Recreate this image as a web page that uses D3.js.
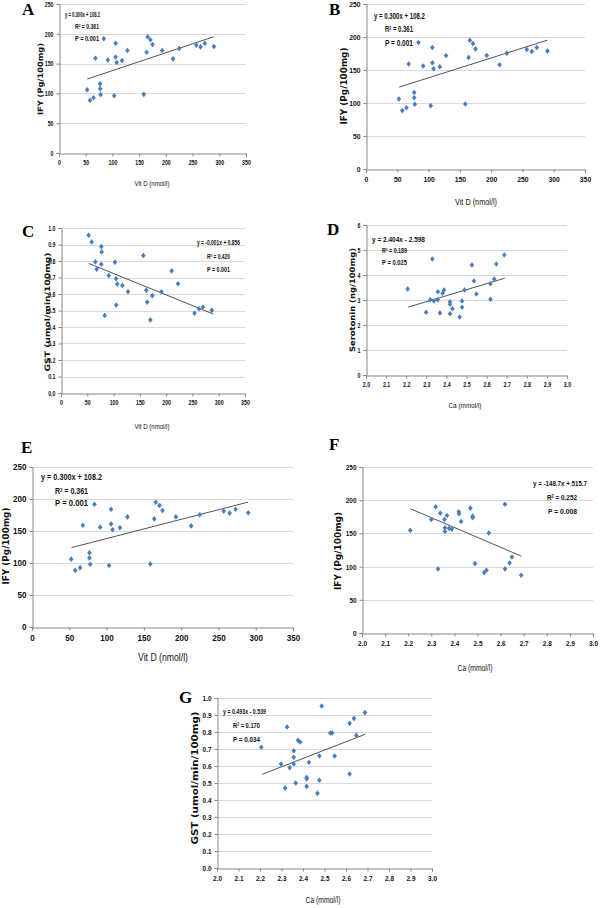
<!DOCTYPE html>
<html><head><meta charset="utf-8">
<script src="https://cdn.jsdelivr.net/npm/d3@7"></script>
<style>body{margin:0;background:#fff}svg{display:block}</style>
</head><body><svg id="c" width="600" height="908"></svg>
<script>
// ---------------- DATA ----------------
const vitD = [52.6,58,64.6,68.2,77,77,78,83.8,91.4,103.4,106,106,108,118,128,158.7,164,166,171,175,193,213.5,225,257,265,273,290];
const ifyByVitD = [106,88.5,92.7,159,116,108,98,191.7,156,96,184,161,152,155,172,98.4,169,195,190,182,172,158,175.5,181,178,184,178.6];

const vitD_C = [52.6,58.3,65.3,67.8,76.7,77.4,76.7,83,90.7,102.7,104.6,105,107,116.7,127.5,156.6,162.3,164,170,173.7,190.9,210.5,222.6,254,262.5,270,287];
const gstByVitD = [0.956,0.915,0.795,0.75,0.887,0.855,0.78,0.47,0.712,0.793,0.692,0.533,0.66,0.652,0.614,0.833,0.622,0.551,0.443,0.59,0.614,0.74,0.662,0.483,0.511,0.521,0.501];

const ca_D = [2.207,2.299,2.32,2.33,2.338,2.358,2.357,2.368,2.381,2.388,2.418,2.418,2.418,2.43,2.466,2.478,2.478,2.49,2.527,2.537,2.549,2.619,2.619,2.638,2.648,2.688];
const serotonin = [3.44,2.51,3.01,4.64,2.96,3.33,3.01,2.48,3.27,3.4,2.93,2.83,2.45,2.65,2.32,2.96,2.71,3.4,4.4,3.76,3.24,3.65,3.03,3.84,4.44,4.8];

const ca_F = [2.209,2.30,2.319,2.329,2.339,2.357,2.359,2.359,2.368,2.377,2.389,2.419,2.42,2.429,2.469,2.479,2.479,2.489,2.529,2.539,2.549,2.619,2.619,2.639,2.649,2.689];
const ifyByCa = [154.5,171,190,96.5,180.5,171,158.5,153,177,157.5,156.5,182.5,179.5,168,188,176,173.5,104.5,91,94.5,150.5,194,96.5,105.5,114.5,87];

const ca_G = [2.206,2.298,2.317,2.326,2.338,2.357,2.357,2.357,2.366,2.377,2.386,2.417,2.417,2.417,2.428,2.467,2.476,2.476,2.487,2.527,2.536,2.547,2.617,2.617,2.637,2.648,2.688];
const gstByCa = [0.71,0.612,0.47,0.829,0.59,0.69,0.651,0.612,0.5,0.751,0.741,0.533,0.524,0.48,0.622,0.439,0.659,0.516,0.953,0.794,0.794,0.659,0.553,0.851,0.88,0.78,0.914];

// trend line end points
const trendVitD_IFY = {x:[53,290], y:[124.1,195.2]};
const trendVitD_GST = {x:[53,290], y:[0.785,0.478]};
const trendCa_Sero  = {x:[2.21,2.69], y:[2.715,3.869]};
const trendCa_IFY   = {x:[2.21,2.69], y:[187.1,115.7]};
const trendCa_GST   = {x:[2.21,2.69], y:[0.551,0.787]};

// ticks
const vitDTicks = [0,50,100,150,200,250,300,350];
const vitDLabels = ["0","50","100","150","200","250","300","350"];
const caTicks = [2.0,2.1,2.2,2.3,2.4,2.5,2.6,2.7,2.8,2.9,3.0];
const caLabels = ["2.0","2.1","2.2","2.3","2.4","2.5","2.6","2.7","2.8","2.9","3.0"];
const ifyTicks = [0,50,100,150,200,250];
const ifyLabels = ["0","50","100","150","200","250"];
const gstTicks = [0,0.1,0.2,0.3,0.4,0.5,0.6,0.7,0.8,0.9,1.0];
const gstLabels = ["0.0","0.1","0.2","0.3","0.4","0.5","0.6","0.7","0.8","0.9","1.0"];
const seroTicks = [0,1,2,3,4,5,6];
const seroLabels = ["0","1","2","3","4","5","6"];

// texts
const eqIFY = ["y = 0.300x + 108.2", "0.361", "P  = 0.001"];
const eqGSTv = ["y = -0.001x + 0.856", "0.420", "P  = 0.001"];
const eqSero = ["y = 2.404x - 2.598", "0.189", "P  = 0.025"];
const eqIFYca = ["y = -148.7x + 515.7", "0.252", "P  = 0.008"];
const eqGSTca = ["y = 0.493x - 0.539", "0.170", "P  = 0.034"];

// ---------------- LAYOUT ----------------
const panels = [
 {L:"A", lx:22, ly:15, x0:59,x1:246,yT:4,yB:153, xd:[0,350], yd:[0,250], xt:vitDTicks, xl:vitDLabels, yt:ifyTicks, yl:ifyLabels,
  xs:vitD, ys:ifyByVitD, tr:trendVitD_IFY, eq:eqIFY, eqPos:[[65,17,35],[75,29,24],[75,41,24]], fs:7, efs:7, sq:0.75,
  xTitle:"Vit D (nmol/l)", xTp:[152,186,35], yTitle:"IFY (Pg/100mg)", yTp:[40,79,72], yfs:7.5},
 {L:"B", lx:329, ly:15, x0:366,x1:585,yT:4,yB:169, xd:[0,350], yd:[0,250], xt:vitDTicks, xl:vitDLabels, yt:ifyTicks, yl:ifyLabels,
  xs:vitD, ys:ifyByVitD, tr:trendVitD_IFY, eq:eqIFY, eqPos:[[374,19,51],[385,32,28],[385,46,28]], fs:8, efs:8.5, sq:0.85,
  xTitle:"Vit D (nmol/l)", xTp:[476,205,42], yTitle:"IFY (Pg/100mg)", yTp:[344,86,77], yfs:8},
 {L:"C", lx:22, ly:237, x0:61,x1:245,yT:228,yB:393, xd:[0,350], yd:[0,1], xt:vitDTicks, xl:vitDLabels, yt:gstTicks, yl:gstLabels,
  xs:vitD_C, ys:gstByVitD, tr:trendVitD_GST, eq:eqGSTv, eqPos:[[197,245,43],[207,259,23],[207,272,23]], fs:7, efs:6.5, sq:0.75,
  xTitle:"Vit D (nmol/l)", xTp:[152,429,35], yTitle:"GST (umol/min/100mg)", yTp:[47,312,119], yfs:7.5},
 {L:"D", lx:327, ly:235, x0:366,x1:567,yT:225,yB:375, xd:[2,3], yd:[0,6], xt:caTicks, xl:caLabels, yt:seroTicks, yl:seroLabels,
  xs:ca_D, ys:serotonin, tr:trendCa_Sero, eq:eqSero, eqPos:[[372,242,53],[382,253,25],[382,265,25]], fs:7, efs:7, sq:0.75,
  xTitle:"Ca (mmol/l)", xTp:[465,408,33], yTitle:"Serotonin (ng/100mg)", yTp:[352,300,104], yfs:7.5},
 {L:"E", lx:21, ly:453, x0:32,x1:293,yT:467,yB:627, xd:[0,350], yd:[0,250], xt:vitDTicks, xl:vitDLabels, yt:ifyTicks, yl:ifyLabels,
  xs:vitD, ys:ifyByVitD, tr:trendVitD_IFY, eq:eqIFY, eqPos:[[41,480,61],[55,494,33],[55,506,33]], fs:9, efs:9.5, sq:0.9,
  xTitle:"Vit D (nmol/l)", xTp:[163,661,50], yTitle:"IFY (Pg/100mg)", yTp:[6,546,77], yfs:8},
 {L:"F", lx:329, ly:450, x0:362,x1:593,yT:467,yB:633, xd:[2,3], yd:[0,250], xt:caTicks, xl:caLabels, yt:ifyTicks, yl:ifyLabels,
  xs:ca_F, ys:ifyByCa, tr:trendCa_IFY, eq:eqIFYca, eqAnchor:"end", eqPos:[[587,486,54],[577,500,30],[577,514,29]], fs:8, efs:8, sq:0.8,
  xTitle:"Ca (mmol/l)", xTp:[475,671,35], yTitle:"IFY (Pg/100mg)", yTp:[338,551,78], yfs:8},
 {L:"G", lx:179, ly:703, x0:217,x1:432,yT:698,yB:868, xd:[2,3], yd:[0,1], xt:caTicks, xl:caLabels, yt:gstTicks, yl:gstLabels,
  xs:ca_G, ys:gstByCa, tr:trendCa_GST, eq:eqGSTca, eqPos:[[223,714,43],[233,728,27],[233,742,27]], fs:8, efs:7.5, sq:0.8,
  xTitle:"Ca (mmol/l)", xTp:[323,903,35], yTitle:"GST (umol/min/100mg)", yTp:[195,778,133], yfs:8}
];

const svg = d3.select("#c");
const NARROW = "'Liberation Sans Narrow','Arial Narrow','Liberation Sans',sans-serif";
const diamond = "M0,-2.8L2.3,0L0,2.8L-2.3,0Z";

function fit(sel, w){ sel.attr("textLength", w).attr("lengthAdjust","spacingAndGlyphs"); }
function squeeze(sel, f){ sel.each(function(){ const n=this.getComputedTextLength(); d3.select(this).attr("textLength", n*f).attr("lengthAdjust","spacingAndGlyphs"); }); }

panels.forEach(p=>{
  const g = svg.append("g");
  const x = d3.scaleLinear().domain(p.xd).range([p.x0,p.x1]);
  const y = d3.scaleLinear().domain(p.yd).range([p.yB,p.yT]);

  // grid
  g.append("g").selectAll("line").data(p.yt.slice(1)).join("line")
    .attr("x1",p.x0).attr("x2",p.x1).attr("y1",d=>Math.round(y(d))+0.5).attr("y2",d=>Math.round(y(d))+0.5)
    .attr("stroke","#d9d9d9").attr("stroke-width",1);

  // axes
  const ax = g.append("g").attr("transform",`translate(0,${Math.round(p.yB)+0.5})`)
    .call(d3.axisBottom(x).tickValues(p.xt).tickFormat((d,i)=>p.xl[i]).tickSizeOuter(0).tickSize(3).tickPadding(4));
  const ay = g.append("g").attr("transform",`translate(${Math.round(p.x0)+0.5},0)`)
    .call(d3.axisLeft(y).tickValues(p.yt).tickFormat((d,i)=>p.yl[i]).tickSizeOuter(0).tickSize(3).tickPadding(3));
  [ax,ay].forEach(a=>{
    a.select(".domain").attr("stroke","#868686");
    a.selectAll(".tick line").attr("stroke","#868686");
    a.selectAll(".tick text").attr("fill","#111").attr("font-family",NARROW).attr("font-size",p.fs).attr("font-weight","bold");
    squeeze(a.selectAll(".tick text"), p.sq);
  });

  // trend line
  g.append("line").attr("x1",x(p.tr.x[0])).attr("y1",y(p.tr.y[0])).attr("x2",x(p.tr.x[1])).attr("y2",y(p.tr.y[1]))
    .attr("stroke","#404040").attr("stroke-width",0.9);

  // points
  g.append("g").selectAll("path").data(p.xs.map((v,i)=>[v,p.ys[i]])).join("path")
    .attr("d",diamond).attr("transform",d=>`translate(${x(d[0])},${y(d[1])})`).attr("fill","#4a7ebb");

  // equation block
  const anchor = p.eqAnchor || "start";
  const e0 = g.append("text").attr("x",p.eqPos[0][0]).attr("y",p.eqPos[0][1]).text(p.eq[0]);
  fit(e0,p.eqPos[0][2]);
  const e1 = g.append("text").attr("x",p.eqPos[1][0]).attr("y",p.eqPos[1][1]);
  e1.append("tspan").text("R");
  e1.append("tspan").attr("dy",-2.5).attr("font-size",p.efs*0.6).text("2");
  e1.append("tspan").attr("dy",2.5).text(" = "+p.eq[1]);
  fit(e1,p.eqPos[1][2]);
  const e2 = g.append("text").attr("x",p.eqPos[2][0]).attr("y",p.eqPos[2][1]).text(p.eq[2]);
  fit(e2,p.eqPos[2][2]);
  [e0,e1,e2].forEach(t=>t.attr("text-anchor",anchor).attr("font-family",NARROW).attr("font-size",p.efs).attr("fill","#111").attr("font-weight","bold"));

  // axis titles
  const xt = g.append("text").attr("x",p.xTp[0]).attr("y",p.xTp[1]).attr("text-anchor","middle")
    .attr("font-family",NARROW).attr("font-size",p.fs+1).attr("fill","#111").text(p.xTitle);
  fit(xt,p.xTp[2]);
  const yt = g.append("text").attr("transform",`translate(${p.yTp[0]},${p.yTp[1]}) rotate(-90)`).attr("text-anchor","middle")
    .attr("dy","0.35em").attr("font-family","'DejaVu Sans',Verdana,sans-serif").attr("font-weight","bold")
    .attr("font-size",p.yfs).attr("fill","#111").text(p.yTitle);
  fit(yt,p.yTp[2]);

  // panel letter
  g.append("text").attr("x",p.lx).attr("y",p.ly).attr("font-family","'Liberation Serif','Times New Roman',serif")
    .attr("font-weight","bold").attr("font-size",17).attr("fill","#000").text(p.L);
});
</script>
</body></html>
